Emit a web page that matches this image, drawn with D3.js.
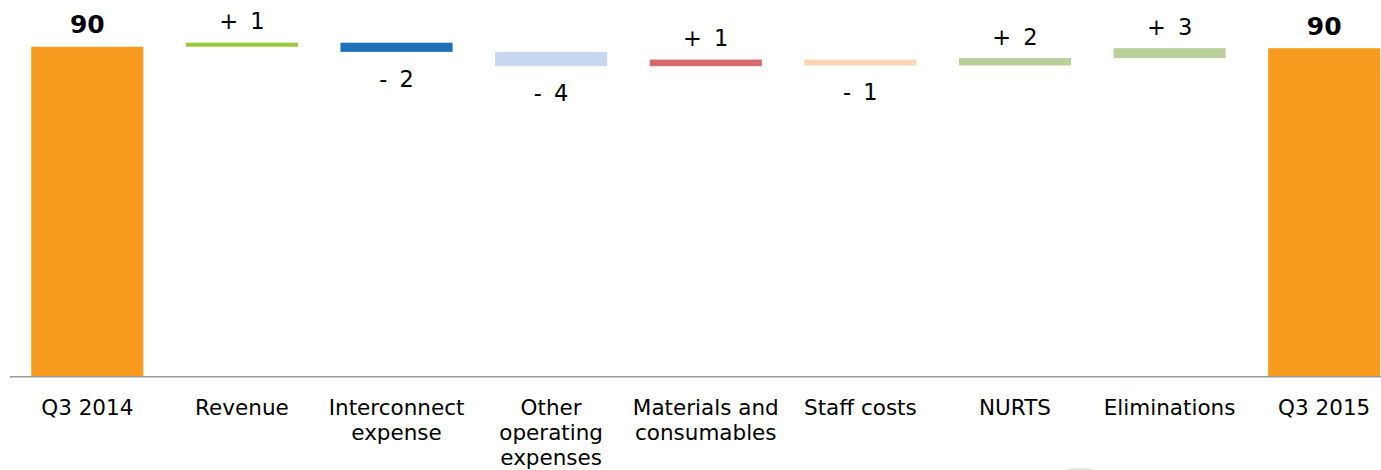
<!DOCTYPE html>
<meta charset="utf-8">
<script src="https://d3js.org/d3.v7.min.js"></script>
<html>
<head>
  <title>Q3 2014 to Q3 2015 bridge</title>
  <style>
    body { margin: 0; background: #fff; }
    svg text { font-family: "DejaVu Sans", Verdana, sans-serif; fill: #000; }
  </style>
</head>
<body>
  <div id="my_dataviz"></div>
</body>
</html>

<script>

  // data
  var categories = ["Q3 2014", "Revenue", "Interconnect expense", "Other operating expenses",
                    "Materials and consumables", "Staff costs", "NURTS", "Eliminations", "Q3 2015"];
  var tickLines = [["Q3 2014"], ["Revenue"], ["Interconnect", "expense"], ["Other", "operating", "expenses"],
                   ["Materials and", "consumables"], ["Staff costs"], ["NURTS"], ["Eliminations"], ["Q3 2015"]];
  var startValue = 89.8;
  var deltas = [1.1, -2.5, -3.9, 1.8, -1.6, 2.0, 2.7];
  var valueLabels = ["90", "+ 1", "- 2", "- 4", "+ 1", "- 1", "+ 2", "+ 3", "90"];
  var barColors = ["#f89c1f", "#9bc93e", "#1f70b8", "#c6d9f1", "#d76b6b", "#fcd5b5", "#bacf99", "#bacf99", "#f89c1f"];

  // build the waterfall rows: start, steps, end
  var rows = [];
  var level = startValue;
  rows.push({name: categories[0], low: 0, high: startValue, total: true});
  deltas.forEach(function(d, i) {
    var next = level + d;
    rows.push({name: categories[i + 1], low: Math.min(level, next), high: Math.max(level, next), up: d >= 0});
    level = next;
  });
  rows.push({name: categories[categories.length - 1], low: 0, high: level, total: true});

  var width = 1381, height = 470;

  var svg = d3.select("#my_dataviz")
    .append("svg")
      .attr("width", width)
      .attr("height", height);

  // X scale: the last band runs past the right edge, as in the picture
  var x = d3.scaleBand()
    .range([10, 1401.5])
    .domain(categories)
    .paddingInner(0.275)
    .paddingOuter(0.1375);

  // Y scale
  var y = d3.scaleLinear()
    .domain([0, 90])
    .range([376, 46]);

  // bars
  svg.selectAll(".bar")
    .data(rows)
    .enter()
    .append("rect")
      .attr("class", "bar")
      .attr("x", function(d) { return x(d.name); })
      .attr("y", function(d) { return y(d.high); })
      .attr("width", x.bandwidth())
      .attr("height", function(d) { return y(d.low) - y(d.high); })
      .style("fill", function(d, i) { return barColors[i]; });

  // value labels
  svg.selectAll(".val")
    .data(rows)
    .enter()
    .append("text")
      .attr("class", "val")
      .attr("x", function(d) { return x(d.name) + x.bandwidth() / 2; })
      .attr("y", function(d) {
        if (d.total || d.up) return y(d.high) - 13.5;
        return y(d.low) + 35;
      })
      .attr("text-anchor", "middle")
      .style("font-size", function(d) { return d.total ? "25px" : "22.5px"; })
      .style("font-weight", function(d) { return d.total ? "bold" : "normal"; })
      .style("word-spacing", "5px")
      .text(function(d, i) { return valueLabels[i]; });

  // x axis
  var xAxis = svg.append("g")
    .attr("transform", "translate(0,376.8)")
    .call(d3.axisBottom(x).tickSize(0).tickFormat(""));

  xAxis.select(".domain")
    .attr("d", "M10,0H" + width)
    .style("stroke", "#9a9a9a")
    .style("stroke-width", 1.6);

  xAxis.selectAll(".tick text").remove();
  xAxis.selectAll(".tick")
    .append("text")
      .attr("text-anchor", "middle")
      .style("font-size", "21.5px")
      .selectAll("tspan")
      .data(function(d, i) { return tickLines[i]; })
      .enter()
      .append("tspan")
        .attr("x", 0)
        .attr("y", function(d, j) { return 38.5 + j * 25; })
        .text(function(d) { return d; });

  // faint grey arc cut off at the bottom edge
  svg.append("ellipse")
    .attr("cx", 1080)
    .attr("cy", 480)
    .attr("rx", 28)
    .attr("ry", 11)
    .style("fill", "none")
    .style("stroke", "#c8c8c8")
    .style("stroke-width", 1.5)
    .style("opacity", 0.6);

</script>
